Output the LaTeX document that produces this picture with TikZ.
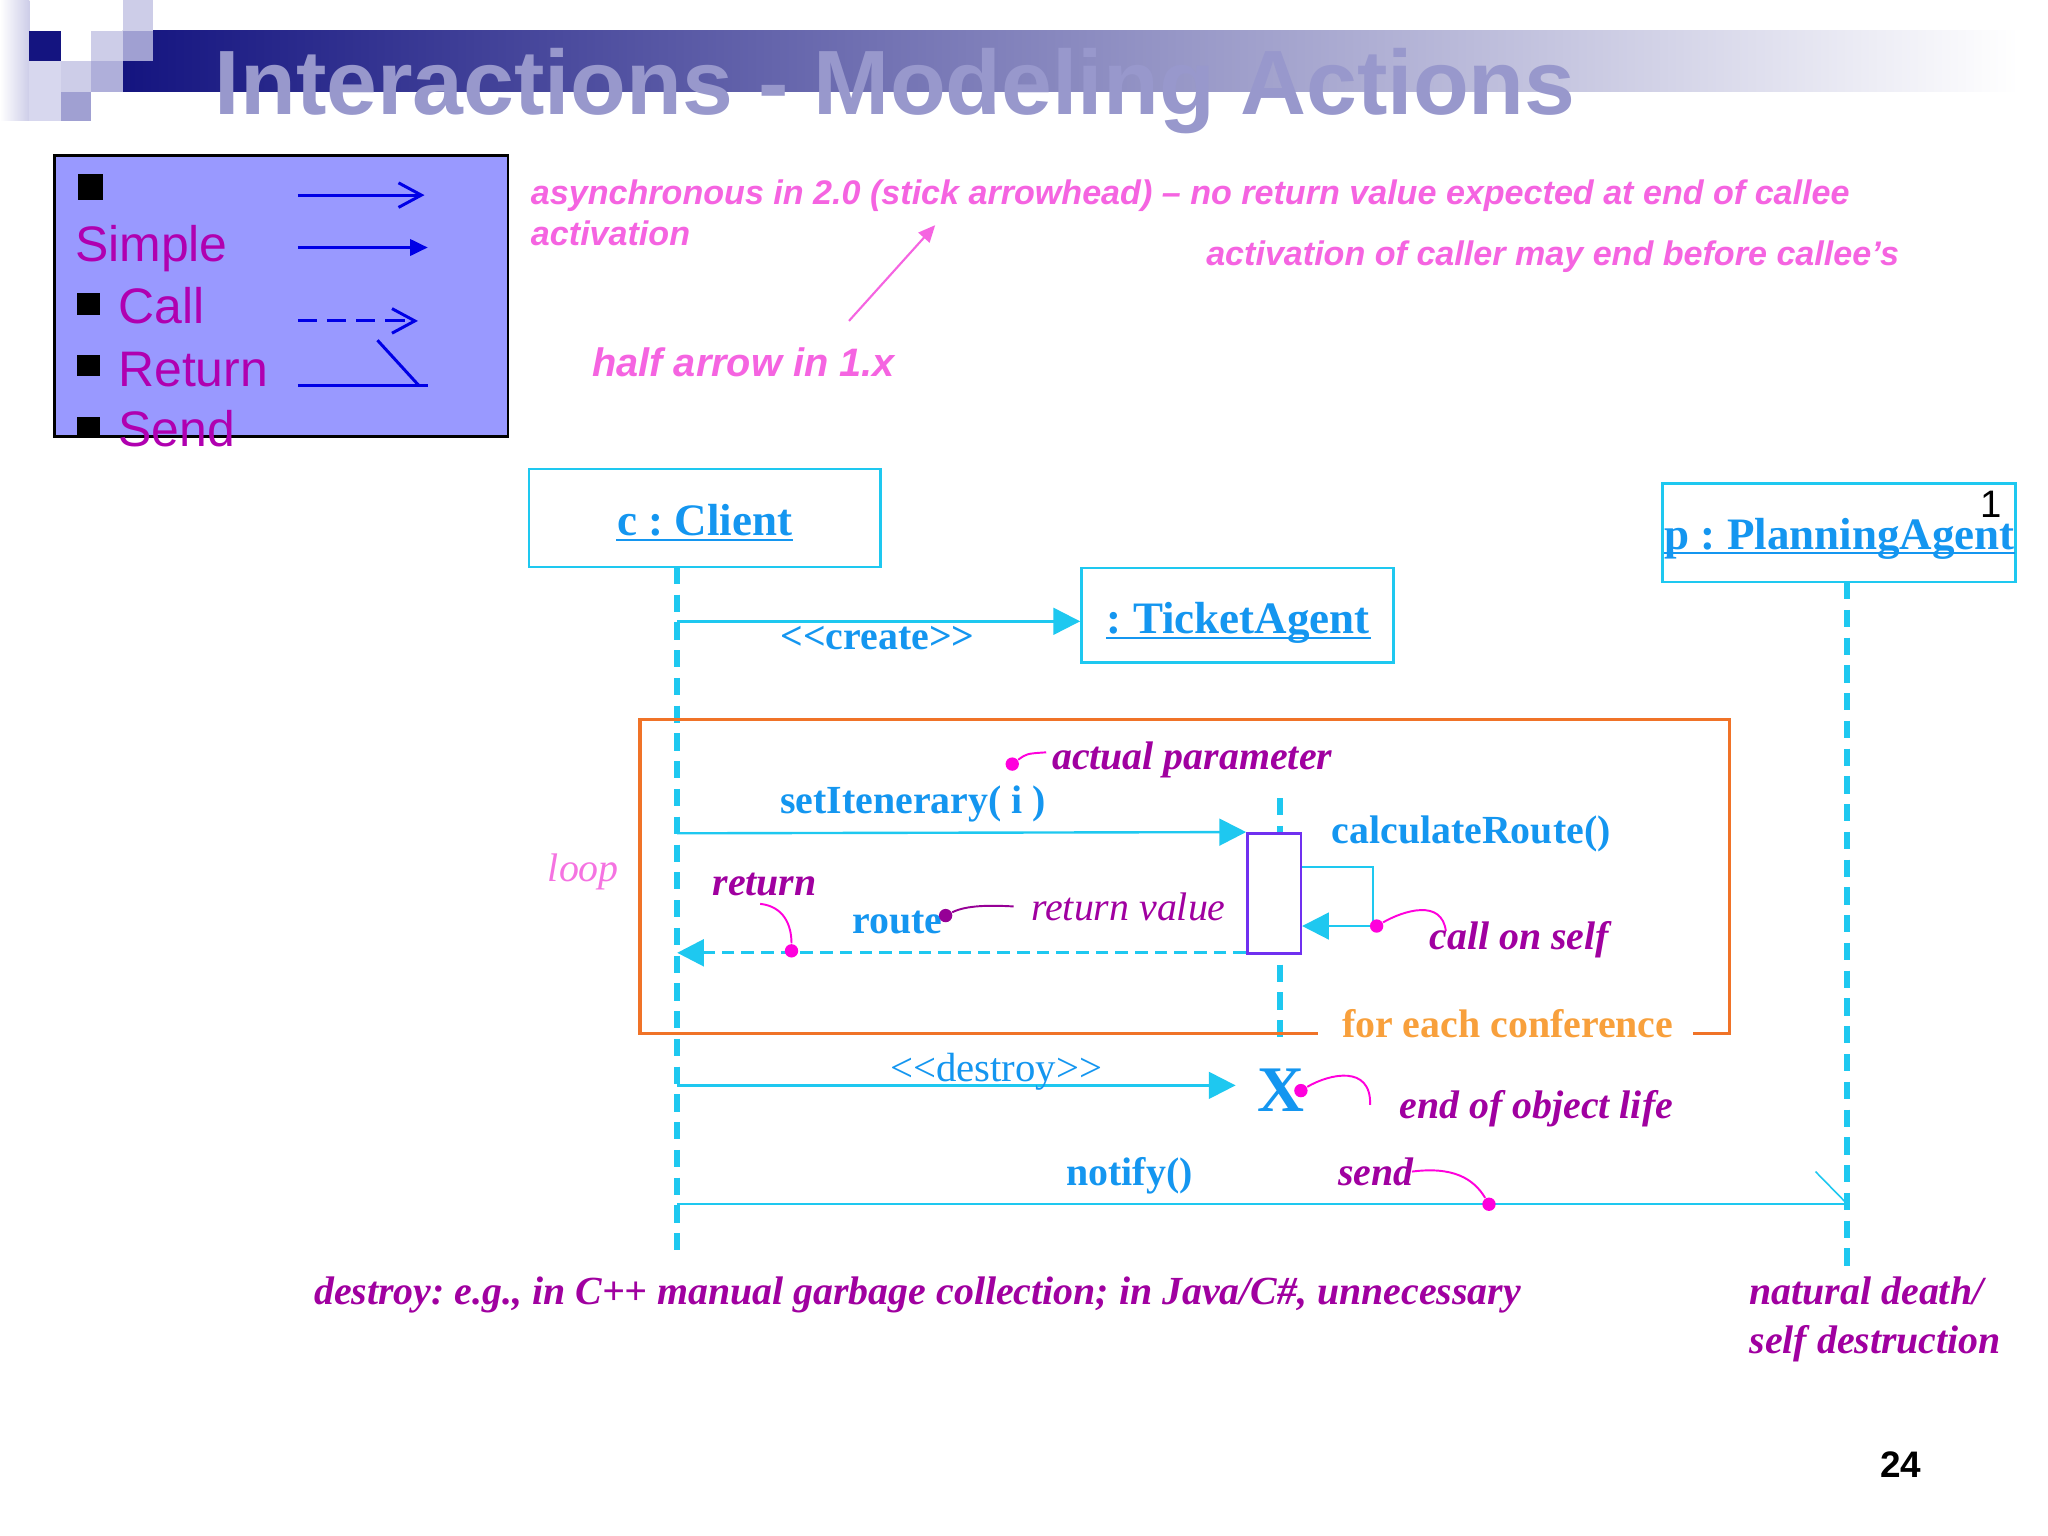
\documentclass[tikz,border=0pt]{standalone}
\usepackage{fontspec}
\setmainfont{Liberation Serif}
\newfontfamily\arial{Liberation Sans}
\usetikzlibrary{arrows.meta,fit}
\frenchspacing
\definecolor{cyanline}{RGB}{30,200,240}
\definecolor{bluetext}{RGB}{20,150,240}
\definecolor{purp}{RGB}{160,0,160}
\definecolor{purpdot}{RGB}{150,0,150}
\definecolor{magdot}{RGB}{255,0,220}
\definecolor{pinktxt}{RGB}{245,100,225}
\definecolor{looptxt}{RGB}{245,115,225}
\definecolor{legendfill}{RGB}{153,153,255}
\definecolor{legendtxt}{RGB}{176,0,176}
\definecolor{legendblue}{RGB}{0,0,230}
\definecolor{orangeline}{RGB}{240,115,40}
\definecolor{orangetxt}{RGB}{248,160,60}
\definecolor{titlecol}{RGB}{152,152,204}
\definecolor{navy}{RGB}{20,20,128}
\definecolor{midlav}{RGB}{115,115,185}
\definecolor{lavA}{RGB}{205,205,232}
\definecolor{lavB}{RGB}{160,160,210}
\definecolor{lavC}{RGB}{215,215,238}
\definecolor{lavD}{RGB}{175,175,218}
\definecolor{actbox}{RGB}{112,48,240}
\begin{document}
\begin{tikzpicture}[x=0.013061cm,y=-0.013061cm,
  txt/.style={inner sep=0pt, anchor=base west},
  objbox/.style={draw=cyanline, line width=0.75pt, inner sep=0pt},
  objname/.style={txt, font=\bfseries\fontsize{12.8}{15}\selectfont, text=bluetext},
  uline/.style={draw=bluetext, line width=0.55pt},
  msglabel/.style={txt, font=\bfseries\fontsize{11.34}{13.6}\selectfont, text=bluetext},
  msglabelreg/.style={txt, font=\fontsize{11.6}{13.6}\selectfont, text=bluetext},
  annot/.style={txt, font=\bfseries\itshape\fontsize{11.34}{13.6}\selectfont, text=purp},
  annotreg/.style={txt, font=\itshape\fontsize{11.34}{13.6}\selectfont, text=purp},
  pinknote/.style={txt, font=\arial\bfseries\itshape\fontsize{9.7}{11.6}\selectfont, text=pinktxt},
  legtxt/.style={txt, font=\arial\fontsize{14.2}{17}\selectfont, text=legendtxt},
  msg/.style={draw=cyanline, line width=0.68pt, -{Triangle[length=7.6pt,width=7.6pt]}},
  retmsg/.style={msg, line width=0.95pt, dash pattern=on 3.6pt off 2pt},
  selfmsg/.style={draw=cyanline, line width=0.68pt, -{Triangle[length=7.6pt,width=7.6pt]}},
  lifeline/.style={draw=cyanline, line width=1.65pt, dash pattern=on 4.9pt off 3pt},
  dot/.style={circle, fill=magdot, inner sep=0pt, minimum size=3.8pt},
  dotdark/.style={dot, fill=purpdot},
  callout/.style={draw=magdot, line width=0.55pt},
  calloutdark/.style={draw=purpdot, line width=0.55pt},
  legarrow/.style={draw=legendblue, line width=0.85pt},
  notifyline/.style={draw=cyanline, line width=0.57pt}
]
\useasboundingbox (0,0) rectangle (1568,1176);
\fill[white] (0,0) rectangle (1568,1176);

% ---------- title banner ----------
\shade[left color=navy, middle color=midlav, right color=white] (94,23.5) rectangle (1545,70.2);
\shade[left color=white, right color=lavA] (0,0) rectangle (22.5,92);
\fill[lavA] (94,0) rectangle (117.5,23.5);
\fill[navy] (22.5,23.5) rectangle (46.5,46.7);
\fill[lavA] (70,23.5) rectangle (94,46.7);
\fill[lavB] (94,23.5) rectangle (117.5,46.7);
\fill[lavC] (22.5,46.7) rectangle (46.5,93);
\fill[lavA] (46.5,46.7) rectangle (70,70.2);
\fill[lavB] (46.5,70.2) rectangle (70,93);
\fill[lavD] (70,46.7) rectangle (94,70.2);
\node[txt, font=\arial\bfseries\fontsize{26}{30}\selectfont, text=titlecol] (title) at (164,88) {Interactions - Modeling Actions};

% ---------- legend ----------
\node[fit={(41.5,119) (389,334)}, inner sep=0pt, draw=black, fill=legendfill, line width=0.8pt] (legend) {};
\fill[black] (60,133.6) rectangle (79,153);
\fill[black] (59,224) rectangle (76.5,241);
\fill[black] (59,272) rectangle (76.5,288);
\fill[black] (59,319) rectangle (76.5,335);
\node[legtxt] (lsimple) at (57,200.5) {Simple};
\node[legtxt] (lcall) at (90,248) {Call};
\node[legtxt] (lreturn) at (90,296) {Return};
\node[legtxt] (lsend) at (90,342) {Send};
\coordinate (la1s) at (228,149.4); \coordinate (la1e) at (325,149.4);
\draw[legarrow, -{Straight Barb[length=6.5pt,width=7pt]}] (la1s) -- (la1e);
\coordinate (la2s) at (228,189.5); \coordinate (la2e) at (327.5,189.5);
\draw[legarrow, -{Triangle[length=5pt,width=4.6pt]}] (la2s) -- (la2e);
\coordinate (la3s) at (228,245.7); \coordinate (la3e) at (320,245.7);
\draw[legarrow, dash pattern=on 5.5pt off 2.8pt, -{Straight Barb[length=6.5pt,width=7pt]}] (la3s) -- (la3e);
\coordinate (la4s) at (228,295.5); \coordinate (la4e) at (327.5,295.5); \coordinate (la4b) at (289,260.5);
\draw[legarrow] (la4s) -- (la4e);
\draw[legarrow] (la4b) -- (321,295.5);

% ---------- pink notes ----------
\node[pinknote] (n1) at (406,156.3) {asynchronous in 2.0 (stick arrowhead) – no return value expected at end of callee};
\node[pinknote] (n2) at (406,187.7) {activation};
\node[pinknote] (n3) at (923,203.6) {activation of caller may end before callee’s};
\node[pinknote, font=\arial\bfseries\itshape\fontsize{11.3}{13.6}\selectfont] (n4) at (453,288.6) {half arrow in 1.x};
\coordinate (pa1) at (650,245.7); \coordinate (pa2) at (716,172.4);
\draw[draw=pinktxt, line width=0.6pt, -{Triangle[length=4.8pt,width=4.2pt]}] (pa1) -- (pa2);

% ---------- objects ----------
\node[fit={(405,359) (674,434)}, objbox] (client) {};
\node[objname] (cname) at (472,410) {c : Client};
\draw[uline] ([yshift=-1.3pt]cname.base west) -- ([yshift=-1.3pt]cname.base east);

\node[fit={(828,435) (1067,507)}, objbox] (ta) {};
\node[objname] (taname) at (847,485) {: TicketAgent};
\draw[uline] ([yshift=-1.3pt]taname.base west) -- ([yshift=-1.3pt]taname.base east);

\node[fit={(1273,370) (1543,445.6)}, objbox] (pa) {};
\node[objname] (paname) at (1274,421) {p : PlanningAgent};
\draw[uline] ([yshift=-1pt]paname.base west) -- ([yshift=-1pt]paname.base east);
\node[txt, font=\arial\fontsize{10.9}{13}\selectfont, text=black] (one) at (1516,396.5) {1};

% ---------- lifelines ----------
\coordinate (clTop) at (518.5,434); \coordinate (clBot) at (518.5,963);
\draw[lifeline] (clTop) -- (clBot);
\coordinate (taTop) at (980,611); \coordinate (taBot) at (980,798);
\draw[lifeline] (taTop) -- (taBot);
\coordinate (paTop) at (1414,445.6); \coordinate (paBot) at (1414,975);
\draw[lifeline] (paTop) -- (paBot);

% ---------- create ----------
\coordinate (cCreate) at (518.5,475.7);
\draw[msg] (cCreate) -- (ta.west |- cCreate);
\node[msglabel] (lcreate) at (597,497) {<\kern0pt<create>\kern0pt>};

% ---------- loop frame ----------
\draw[draw=orangeline, line width=0.9pt] (1009,791) -- (490,791) -- (490,551) -- (1324,551) -- (1324,791) -- (1296,791);
\node[txt, font=\bfseries\fontsize{11.34}{13.6}\selectfont, text=orangetxt] (fec) at (1027,794) {for each conference};
\node[txt, font=\itshape\fontsize{11.34}{13.6}\selectfont, text=looptxt] (loop) at (419,675) {loop};

% activation
\node[fit={(955,638) (996,730)}, inner sep=0pt, draw=actbox, fill=white, line width=0.7pt] (act) {};

% setItenerary
\coordinate (cSet) at (518.5,638);
\draw[msg] (cSet) -- (act.north west);
\node[msglabel] (lset) at (597,623) {setItenerary( i )};
\node[annot] (lap) at (805,589) {actual parameter};
\node[dot] (dAP) at (775,585) {};
\coordinate (eAP) at (801,576);
\draw[callout] (dAP) .. controls (786,577) .. (eAP);

% calculateRoute
\node[msglabel] (lcalc) at (1019,646) {calculateRoute()};
\coordinate (s1) at (1051,664); \coordinate (s2) at (1051,709);
\draw[selfmsg] (act.east |- s1) -- (s1) -- (s2) -- (act.east |- s2);
\node[dot] (dSelf) at (1054,709) {};
\coordinate (eSelf) at (1107,713);
\draw[callout] (dSelf) .. controls (1075,697) and (1104,688) .. (eSelf);
\node[annot] (lself) at (1094,727) {call on self};

% return
\coordinate (cRet) at (518.5,729.5);
\draw[retmsg] (act.south west |- cRet) -- (cRet);
\node[annot] (lret) at (545,686) {return};
\coordinate (sRet) at (582,692);
\node[dot] (dRet) at (606,728) {};
\draw[callout] (sRet) .. controls (600,694) and (606,708) .. (dRet);
\node[msglabel] (lroute) at (652,715) {route};
\node[dotdark] (dRoute) at (724,701) {};
\coordinate (eRoute) at (776,694);
\draw[calloutdark] (dRoute) .. controls (740,693) and (758,693) .. (eRoute);
\node[annotreg] (lrv) at (789,704.5) {return value};

% ---------- destroy ----------
\coordinate (cDes) at (518.5,831);
\coordinate (desEnd) at (946,831);
\draw[msg] (cDes) -- (desEnd);
\node[msglabelreg] (ldes) at (681,828) {<\kern0pt<destroy>\kern0pt>};
\node[inner sep=0pt, font=\bfseries\fontsize{18.5}{20}\selectfont, text=bluetext] (X) at (981,834.5) {X};
\node[dot] (dX) at (996,835) {};
\coordinate (eX) at (1049,846);
\draw[callout] (dX) .. controls (1018,822) and (1050,815) .. (eX);
\node[annot] (leol) at (1071,856) {end of object life};

% ---------- notify ----------
\coordinate (cNot) at (518.5,921.5);
\coordinate (pNot) at (1414,921.5);
\coordinate (bNot) at (1390,897);
\draw[notifyline] (cNot) -- (pNot);
\draw[draw=cyanline, line width=0.45pt] (bNot) -- (pNot);
\node[msglabel] (lnot) at (816,908) {notify()};
\node[annot] (lsend2) at (1024,908) {send};
\coordinate (sSend) at (1081,897);
\node[dot] (dSend) at (1140,922) {};
\draw[callout] (sSend) .. controls (1112,893) and (1128,902) .. (dSend);

% ---------- bottom notes ----------
\node[annot] (ldestroy) at (240,999) {destroy: e.g., in C++ manual garbage collection; in Java/C\#, unnecessary};
\node[annot] (lnat1) at (1339,999) {natural death/};
\node[annot] (lnat2) at (1339,1036) {self destruction};
\node[txt, font=\arial\bfseries\fontsize{10.5}{12}\selectfont, text=black] (page) at (1439,1131) {24};
\end{tikzpicture}
\end{document}
